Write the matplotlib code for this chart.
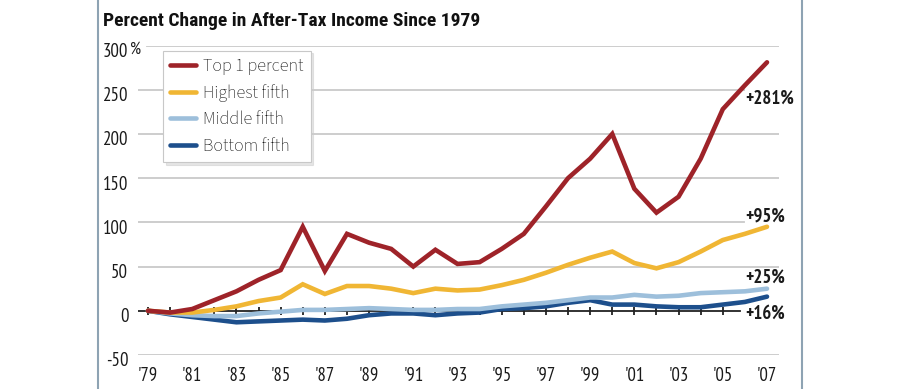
import matplotlib.pyplot as plt
import matplotlib.transforms as mtransforms
from matplotlib.lines import Line2D
import numpy as np

# data
years = list(range(1979, 2008))
top1 = [0, -2, 2, 12, 22, 35, 46, 95, 45, 87, 77, 70, 50, 69, 53, 55,
        70, 87, 118, 150, 172, 200, 138, 111, 129, 172, 228, 255, 281]
highest = [0, -2, -2, 1, 5, 11, 15, 30, 19, 28, 28, 25, 20, 25, 23, 24,
           29, 35, 43, 52, 60, 67, 54, 48, 55, 67, 80, 87, 95]
middle = [0, -3, -5, -6, -6, -3, -1, 1, 1, 2, 3, 2, 1, 1, 2, 2,
          5, 7, 9, 12, 15, 15, 18, 16, 17, 20, 21, 22, 25]
bottom = [0, -4, -7, -10, -13, -12, -11, -10, -11, -9, -5, -3, -3, -5, -3, -2,
          2, 3, 5, 9, 12, 7, 7, 5, 4, 4, 7, 10, 16]
names = ['Top 1 percent', 'Highest fifth', 'Middle fifth', 'Bottom fifth']
colors = ['#9e2329', '#f0b634', '#9dbfdb', '#1d4f8c']
yticks = [-50, 0, 50, 100, 150, 200, 250, 300]
xtick_years = list(range(1979, 2008, 2))
xtick_labels = ["'" + str(y)[2:] for y in xtick_years]

narrow = ['PT Sans Narrow', 'DejaVu Sans']
title_font = ['Roboto Condensed', 'PT Sans Narrow', 'DejaVu Sans']
plain = ['Source Sans 3', 'DejaVu Sans']

fig = plt.figure(figsize=(9, 3.89), dpi=100)
ax = fig.add_axes([138/900, 1-355/389, 641/900, (355-45.5)/389])
ppy = 619/28
ax.set_xlim(1979 - 10/ppy, 2007 + 12/ppy)
ax.set_ylim(-50, 300)
for s in ax.spines.values():
    s.set_visible(False)

# gridlines
grid_c = '#c9c9c9'
for v in yticks:
    if v == 0:
        continue
    xmin, xmax = 0, 1
    if v == 300:
        xmin = 9/641
    if v in (100, 250):
        xmax = 606/641
    ax.axhline(v, xmin=xmin, xmax=xmax, color=grid_c, lw=1.3, zorder=1)

# zero axis with year ticks
ax.axhline(0, xmin=0, xmax=602/641, color='#222222', lw=1.3, zorder=2)
ax.vlines(years[:-2], -4.5, 4.5, color='#222222', lw=1.3, zorder=2)

series = [top1, highest, middle, bottom]
for vals, n, c in zip(series[::-1], names[::-1], colors[::-1]):
    ax.plot(years, vals, color=c, lw=3.3, label=n, zorder=3,
            solid_joinstyle='miter', solid_capstyle='round')

# end labels
offsets = [-41.5, 12, 12, -19.5]
for vals, off in zip(series, offsets):
    ax.text(2006.0, vals[-1] + off, '+%d%%' % vals[-1], ha='left', va='center',
            family=narrow, fontweight='bold', fontsize=13.5, color='#1a1a1a')

# ticks
ax.set_yticks(yticks)
ax.set_yticklabels([str(v) for v in yticks], family=narrow, fontsize=13.5, color='#1a1a1a')
ax.set_xticks(xtick_years)
ax.set_xticklabels(xtick_labels, family=narrow, fontsize=13.5, color='#1a1a1a')
ax.tick_params(length=0)
ax.tick_params(axis='y', pad=7)
ax.tick_params(axis='x', pad=8.5)
off = mtransforms.ScaledTranslation(0, -4.5/100, fig.dpi_scale_trans)
for lab in ax.get_yticklabels():
    lab.set_transform(lab.get_transform() + off)
ax.annotate('%', xy=(0, 300), xycoords=('axes fraction', 'data'),
            xytext=(-6, -3.3), textcoords='offset points', ha='left', va='center',
            family=narrow, fontsize=12.5, color='#1a1a1a')

# legend
h, l = ax.get_legend_handles_labels()
leg = ax.legend(h[::-1], l[::-1], loc='upper left', bbox_to_anchor=(163/900, 1-50.7/389),
                bbox_transform=fig.transFigure, borderaxespad=0, fancybox=False,
                shadow={'color': '#cccccc'}, framealpha=1, edgecolor='#c8c8c8',
                prop={'family': plain, 'size': 13}, handlelength=1.45,
                handletextpad=0.4, labelspacing=0.5, borderpad=0.38)
leg.get_frame().set_linewidth(0.8)
for t in leg.get_texts():
    t.set_color('#1a1a1a')

fig.text(103/900, 1-21/389, 'Percent Change in After-Tax Income Since 1979',
         family=title_font, fontweight='bold', fontsize=14, va='center', color='#111111')

# side borders
for xp in (98, 802):
    fig.add_artist(Line2D([xp/900, xp/900], [0, 1], color='#8ea3b3', lw=1.5))

fig.savefig('out.png', dpi=100)
